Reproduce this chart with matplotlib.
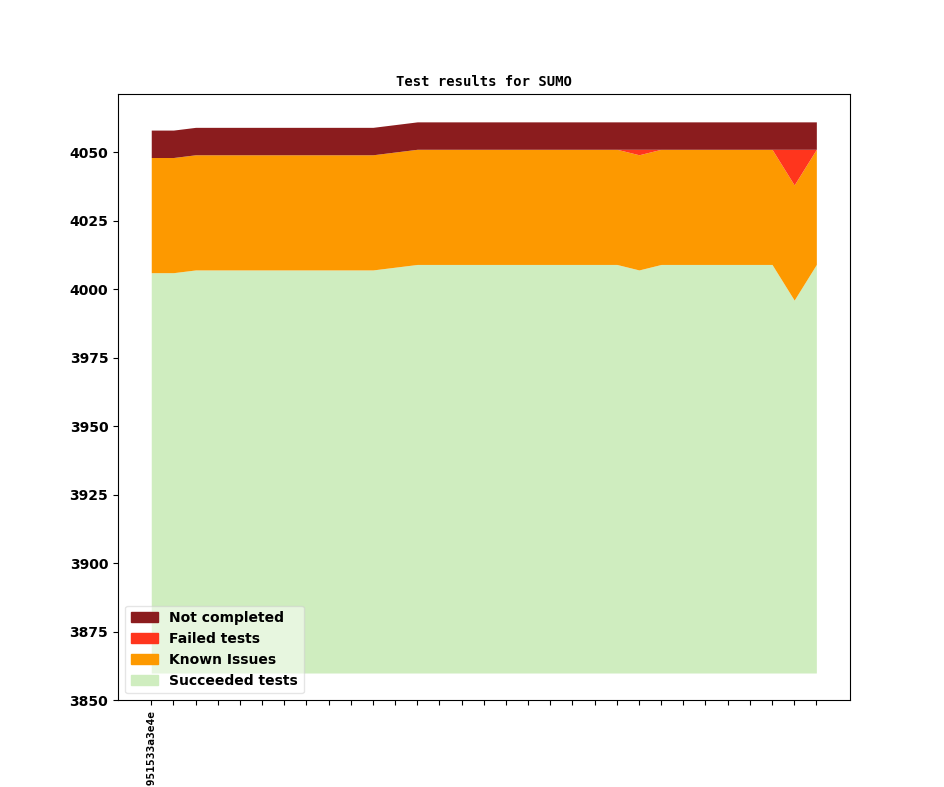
import numpy as np
import matplotlib
matplotlib.use('Agg')
import matplotlib.pyplot as plt
from matplotlib.patches import Patch

# 每个提交的测试结果
succeeded = [4006, 4006, 4007, 4007, 4007, 4007, 4007, 4007, 4007, 4007,
             4007, 4008, 4009, 4009, 4009, 4009, 4009, 4009, 4009, 4009,
             4009, 4009, 4007, 4009, 4009, 4009, 4009, 4009, 4009, 3996,
             4009]
known_issues = [42] * 31
failed = [0] * 22 + [2] + [0] * 6 + [13] + [0]
not_completed = [10] * 31
commits = ['7a2c0de1f0b49951533a3e4e'] + [''] * 30

base = 3860
labels = ['Succeeded tests', 'Known Issues', 'Failed tests', 'Not completed']
colors = ['#cfedbf', '#fd9900', '#ff351d', '#8b1c1e']

fig = plt.figure(figsize=(9.44, 7.87), dpi=100)
ax = fig.add_subplot(111)

x = np.arange(len(succeeded))
layers = [succeeded, known_issues, failed, not_completed]
lower = np.full(len(x), base)
upper = np.array(succeeded)
ax.fill_between(x, lower, upper, color=colors[0], linewidth=0)
for i in range(1, 4):
    lower = upper
    upper = lower + np.array(layers[i])
    ax.fill_between(x, lower, upper, color=colors[i], linewidth=0)

ax.set_xlim(-1.5, 31.5)
ax.set_ylim(3850, 4071)
ax.set_xticks(x)
ax.set_xticklabels(commits, rotation=90, fontsize=8, family='monospace', fontweight='bold')
for t in ax.get_yticklabels():
    t.set_fontweight('bold')
    t.set_fontsize(10)

ax.set_title('Test results for SUMO', family='monospace', fontweight='bold', fontsize=10)

handles = [Patch(color=colors[i], label=labels[i]) for i in [3, 2, 1, 0]]
ax.legend(handles=handles, loc='lower left', framealpha=0.5,
          prop={'weight': 'bold', 'size': 10})

plt.savefig('out.png', dpi=100)
